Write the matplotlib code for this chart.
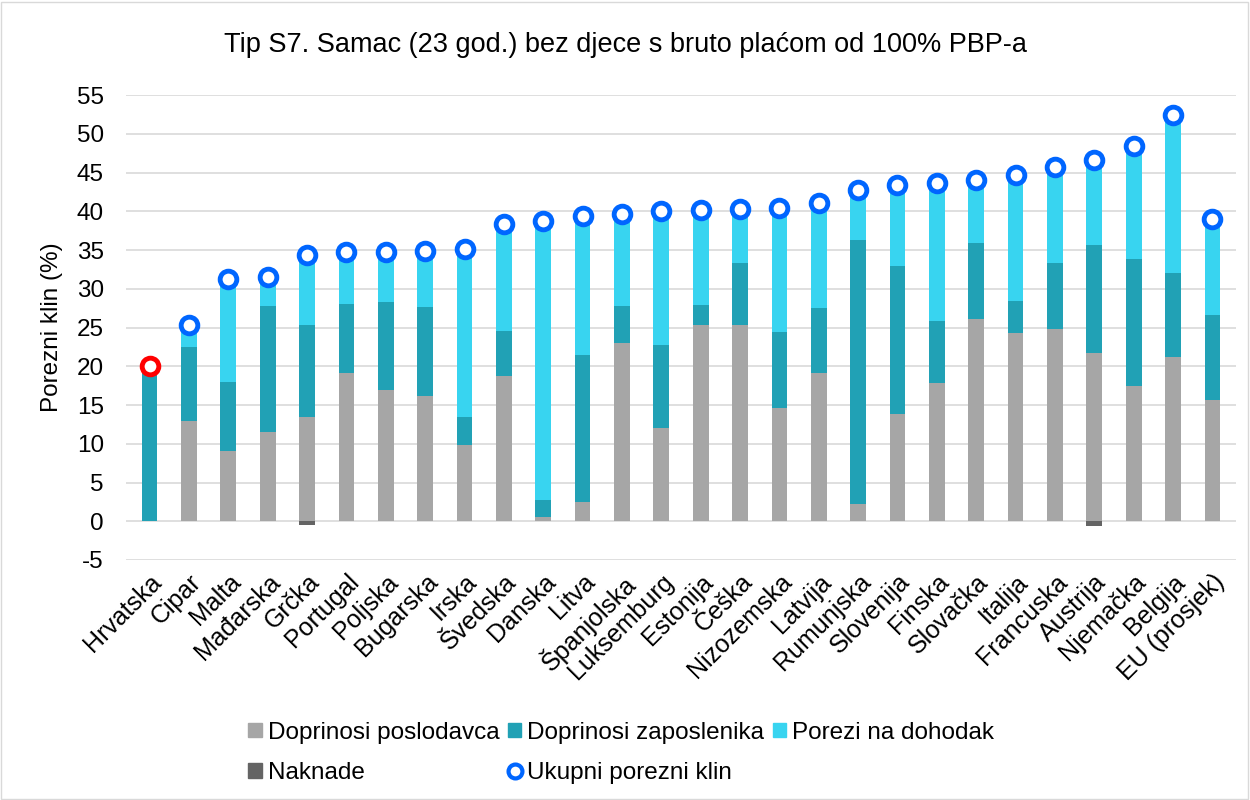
import numpy as np
import matplotlib.pyplot as plt
from matplotlib.lines import Line2D
from matplotlib.patches import Patch

countries = ["Hrvatska", "Cipar", "Malta", "Mađarska", "Grčka", "Portugal", "Poljska",
             "Bugarska", "Irska", "Švedska", "Danska", "Litva", "Španjolska", "Luksemburg",
             "Estonija", "Češka", "Nizozemska", "Latvija", "Rumunjska", "Slovenija", "Finska",
             "Slovačka", "Italija", "Francuska", "Austrija", "Njemačka", "Belgija", "EU (prosjek)"]

# doprinosi poslodavca
employer = [0.0, 13.0, 9.1, 11.5, 13.5, 19.2, 17.0, 16.2, 9.9, 18.8, 0.5, 2.5, 23.0, 12.0,
            25.3, 25.3, 14.6, 19.1, 2.2, 13.9, 17.8, 26.1, 24.3, 24.8, 21.7, 17.4, 21.2, 15.6]
# doprinosi zaposlenika
employee = [20.0, 9.5, 8.9, 16.3, 11.9, 8.8, 11.3, 11.4, 3.5, 5.7, 2.3, 18.9, 4.8, 10.8,
            2.6, 8.1, 9.8, 8.4, 34.1, 19.0, 8.1, 9.8, 4.1, 8.6, 14.0, 16.5, 10.9, 11.0]
# porezi na dohodak
income_tax = [0.0, 2.8, 13.3, 3.7, 9.0, 6.8, 6.5, 7.3, 21.8, 13.9, 35.9, 17.95, 11.85, 17.3,
              12.3, 6.9, 16.1, 13.55, 6.5, 10.5, 17.8, 8.2, 16.3, 12.35, 11.0, 14.6, 20.4, 12.4]
# naknade
benefits = [0, 0, 0, 0, -0.5, 0, 0, 0, 0, 0, 0, 0, 0, 0,
            0, 0, 0, 0, 0, 0, 0, 0, 0, 0, -0.6, 0, 0, 0]
# ukupni porezni klin
total = [20.0, 25.3, 31.3, 31.5, 34.4, 34.8, 34.8, 34.9, 35.2, 38.4, 38.7, 39.35, 39.65, 40.1,
         40.2, 40.3, 40.5, 41.05, 42.8, 43.4, 43.7, 44.1, 44.7, 45.75, 46.65, 48.5, 52.5, 39.0]

c_employer = "#A6A6A6"
c_employee = "#21A1B5"
c_tax = "#38D4F0"
c_benefits = "#646464"
c_total = "#0066FF"

plt.rcParams["font.family"] = ["Liberation Sans", "DejaVu Sans"]
plt.rcParams["axes.unicode_minus"] = False

fig = plt.figure(figsize=(12.5, 8), dpi=100)
ax = fig.add_axes([0.1008, 0.30, 0.888, 0.581])

x = np.arange(len(countries))
employer = np.array(employer)
employee = np.array(employee)
income_tax = np.array(income_tax)
w = 0.4

ax.bar(x, employer, w, color=c_employer, zorder=2)
ax.bar(x, employee, w, bottom=employer, color=c_employee, zorder=2)
ax.bar(x, income_tax, w, bottom=employer + employee, color=c_tax, zorder=2)
ax.bar(x, benefits, w, color=c_benefits, zorder=2)

edge = [c_total] * len(countries)
edge[0] = "#FF0000"
for i in range(len(countries)):
    ax.plot(x[i], total[i], "o", ms=12, mfc="white", mec=edge[i], mew=3.5, zorder=3)

ax.set_ylim(-5, 55)
ax.set_xlim(-0.6, len(countries) - 0.4)
ax.set_yticks(np.arange(-5, 56, 5))
ax.yaxis.grid(True, color="#D9D9D9", lw=1.2, zorder=0)
ax.set_axisbelow(True)
for s in ax.spines.values():
    s.set_visible(False)
ax.tick_params(axis="both", length=0, labelsize=17.5)
ax.tick_params(axis="y", pad=16)
ax.set_xticks(x)
ax.set_xticklabels(countries, rotation=45, ha="right", rotation_mode="anchor", fontsize=18)
ax.tick_params(axis="x", pad=7)
ax.set_ylabel("Porezni klin (%)", fontsize=17.5, labelpad=10)

fig.text(0.5, 0.944, "Tip S7. Samac (23 god.) bez djece s bruto plaćom od 100% PBP-a",
         ha="center", va="center", fontsize=19.5)

handles = [Patch(color=c_employer), Patch(color=c_benefits),
           Patch(color=c_employee),
           Line2D([], [], marker="o", ls="", ms=10, mfc="white", mec=c_total, mew=3),
           Patch(color=c_tax)]
labels = ["Doprinosi poslodavca", "Naknade", "Doprinosi zaposlenika",
          "Ukupni porezni klin", "Porezi na dohodak"]
fig.legend(handles, labels, ncol=3, loc="center", bbox_to_anchor=(0.497, 0.059),
           frameon=False, fontsize=17.5, handlelength=0.55, handleheight=0.55,
           handletextpad=0.25, columnspacing=0.35, labelspacing=0.75)

fig.patches.append(plt.Rectangle((0.001, 0.001), 0.997, 0.997, transform=fig.transFigure,
                                 fill=False, ec="#D9D9D9", lw=1))

fig.savefig("out.png", dpi=100)
